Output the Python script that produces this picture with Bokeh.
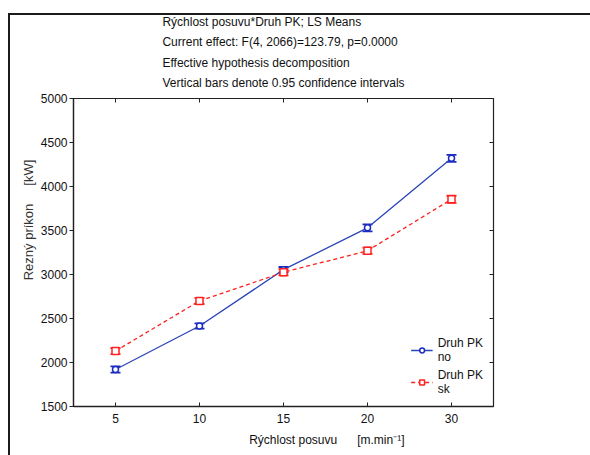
from bokeh.plotting import figure
from bokeh.models import (ColumnDataSource, FactorRange, Range1d, FixedTicker, CategoricalAxis,
                          LinearAxis, Whisker, TeeHead, Legend, LegendItem)
from bokeh.embed import file_html
from bokeh.resources import INLINE

# ---- data ----
speeds = ["5", "10", "15", "20", "30"]
no_means = [1920, 2415, 3055, 3530, 4320]
no_ci = [35, 30, 30, 40, 40]
sk_means = [2130, 2700, 3025, 3270, 3855]
sk_ci = [35, 35, 35, 35, 40]
y_ticks = [1500, 2000, 2500, 3000, 3500, 4000, 4500, 5000]

title_lines = ["Rýchlost posuvu*Druh PK; LS Means",
               "Current effect: F(4, 2066)=123.79, p=0.0000",
               "Effective hypothesis decomposition",
               "Vertical bars denote 0.95 confidence intervals"]
NB = "\u00a0"
x_title = NB * 26 + "Rýchlost posuvu" + NB * 6 + "[m.min⁻¹]"
y_title = NB * 18 + "Rezný príkon" + NB * 5 + "[kW]"

FONT = "Liberation Sans"
BLUE = "#2a45b8"
BLUE_M = "#1c2cc0"
RED = "#ff2020"
INK = "#111111"

src_no = ColumnDataSource(dict(x=speeds, y=no_means,
                               lo=[m - c for m, c in zip(no_means, no_ci)],
                               hi=[m + c for m, c in zip(no_means, no_ci)]))
src_sk = ColumnDataSource(dict(x=speeds, y=sk_means,
                               lo=[m - c for m, c in zip(sk_means, sk_ci)],
                               hi=[m + c for m, c in zip(sk_means, sk_ci)]))

p = figure(width=590, height=455, output_backend="svg", toolbar_location=None,
           x_range=FactorRange(*speeds), y_range=Range1d(1500, 5000),
           min_border_left=73, min_border_right=97, min_border_top=98, min_border_bottom=49,
           background_fill_color="white", border_fill_color="white",
           title="\n".join(title_lines))
p.title.align = "center"
p.title.text_font = FONT
p.title.text_font_size = "12px"
p.title.text_font_style = "normal"
p.title.text_color = INK
p.title.text_line_height = 1.45
p.title.standoff = 17

p.xgrid.grid_line_color = None
p.ygrid.grid_line_color = None
p.outline_line_color = "#222222"
p.outline_line_width = 1.2

# outer frame of the figure box (left and top edges visible in the picture)
p.stylesheets = [":host { position: relative; } "
                 ":host::after { content: ''; position: absolute; left: 8px; top: 13px; "
                 "right: 0; bottom: 0; border-left: 2px solid #1a1a1a; "
                 "border-top: 2px solid #1a1a1a; pointer-events: none; }"]

# left axis
p.yaxis.ticker = FixedTicker(ticks=y_ticks)
p.yaxis.major_tick_out = 4
p.yaxis.major_tick_in = 0
p.yaxis.minor_tick_out = 0
p.yaxis.minor_tick_in = 0
p.yaxis.major_label_standoff = 2
p.yaxis.axis_label = y_title
p.yaxis.axis_label_standoff = 2
p.yaxis.axis_label_text_font_size = "13px"
p.yaxis.axis_label_text_color = "#333333"
# bottom axis
p.xaxis.major_tick_in = 4
p.xaxis.major_tick_out = 0
p.xaxis.major_label_standoff = 7
p.xaxis.axis_label = x_title
p.xaxis.axis_label_standoff = 7
p.xaxis.axis_label_text_font_size = "12px"
p.xaxis.axis_label_text_color = INK
for ax in [p.xaxis[0], p.yaxis[0]]:
    ax.axis_line_color = "#222222"
    ax.axis_line_width = 1.3
    ax.major_tick_line_color = "#222222"
    ax.major_label_text_font = FONT
    ax.major_label_text_font_size = "12px"
    ax.major_label_text_color = INK
    ax.axis_label_text_font = FONT
    ax.axis_label_text_font_style = "normal"

# mirrored right and top axes with inward ticks, no labels
rax = LinearAxis(ticker=FixedTicker(ticks=y_ticks), major_tick_in=4, major_tick_out=0,
                 minor_tick_in=0, minor_tick_out=0, major_label_text_font_size="0px",
                 axis_line_color="#222222", major_tick_line_color="#222222")
p.add_layout(rax, "right")
tax = CategoricalAxis(major_tick_in=4, major_tick_out=0, major_label_standoff=0,
                      major_label_text_font_size="0px",
                      axis_line_color="#222222", major_tick_line_color="#222222")
p.add_layout(tax, "above")

# series
l_no = p.line("x", "y", source=src_no, line_color=BLUE, line_width=1.3)
s_no = p.scatter("x", "y", source=src_no, marker="circle", size=6, fill_color="white",
                 line_color=BLUE_M, line_width=1.5)
l_sk = p.line("x", "y", source=src_sk, line_color=RED, line_width=1.3, line_dash="4 3")
s_sk = p.scatter("x", "y", source=src_sk, marker="square", size=7, fill_color="white",
                 line_color=RED, line_width=1.5)

for src, col in [(src_no, BLUE_M), (src_sk, RED)]:
    w = Whisker(source=src, base="x", upper="hi", lower="lo", line_color=col, line_width=1.3,
                upper_head=TeeHead(size=10, line_color=col, line_width=1.8),
                lower_head=TeeHead(size=10, line_color=col, line_width=1.8))
    p.add_layout(w)

legend = Legend(items=[LegendItem(label="Druh PK\nno", renderers=[l_no, s_no]),
                       LegendItem(label="Druh PK\nsk", renderers=[l_sk, s_sk])],
                location="bottom_right", background_fill_alpha=0, border_line_color=None,
                label_text_font=FONT, label_text_font_size="12px", label_text_color=INK,
                glyph_width=22, glyph_height=12, label_standoff=5, spacing=4,
                padding=0, margin=10, label_text_line_height=1.3)
p.add_layout(legend, "center")

open("out.html", "w").write(file_html(p, INLINE))
